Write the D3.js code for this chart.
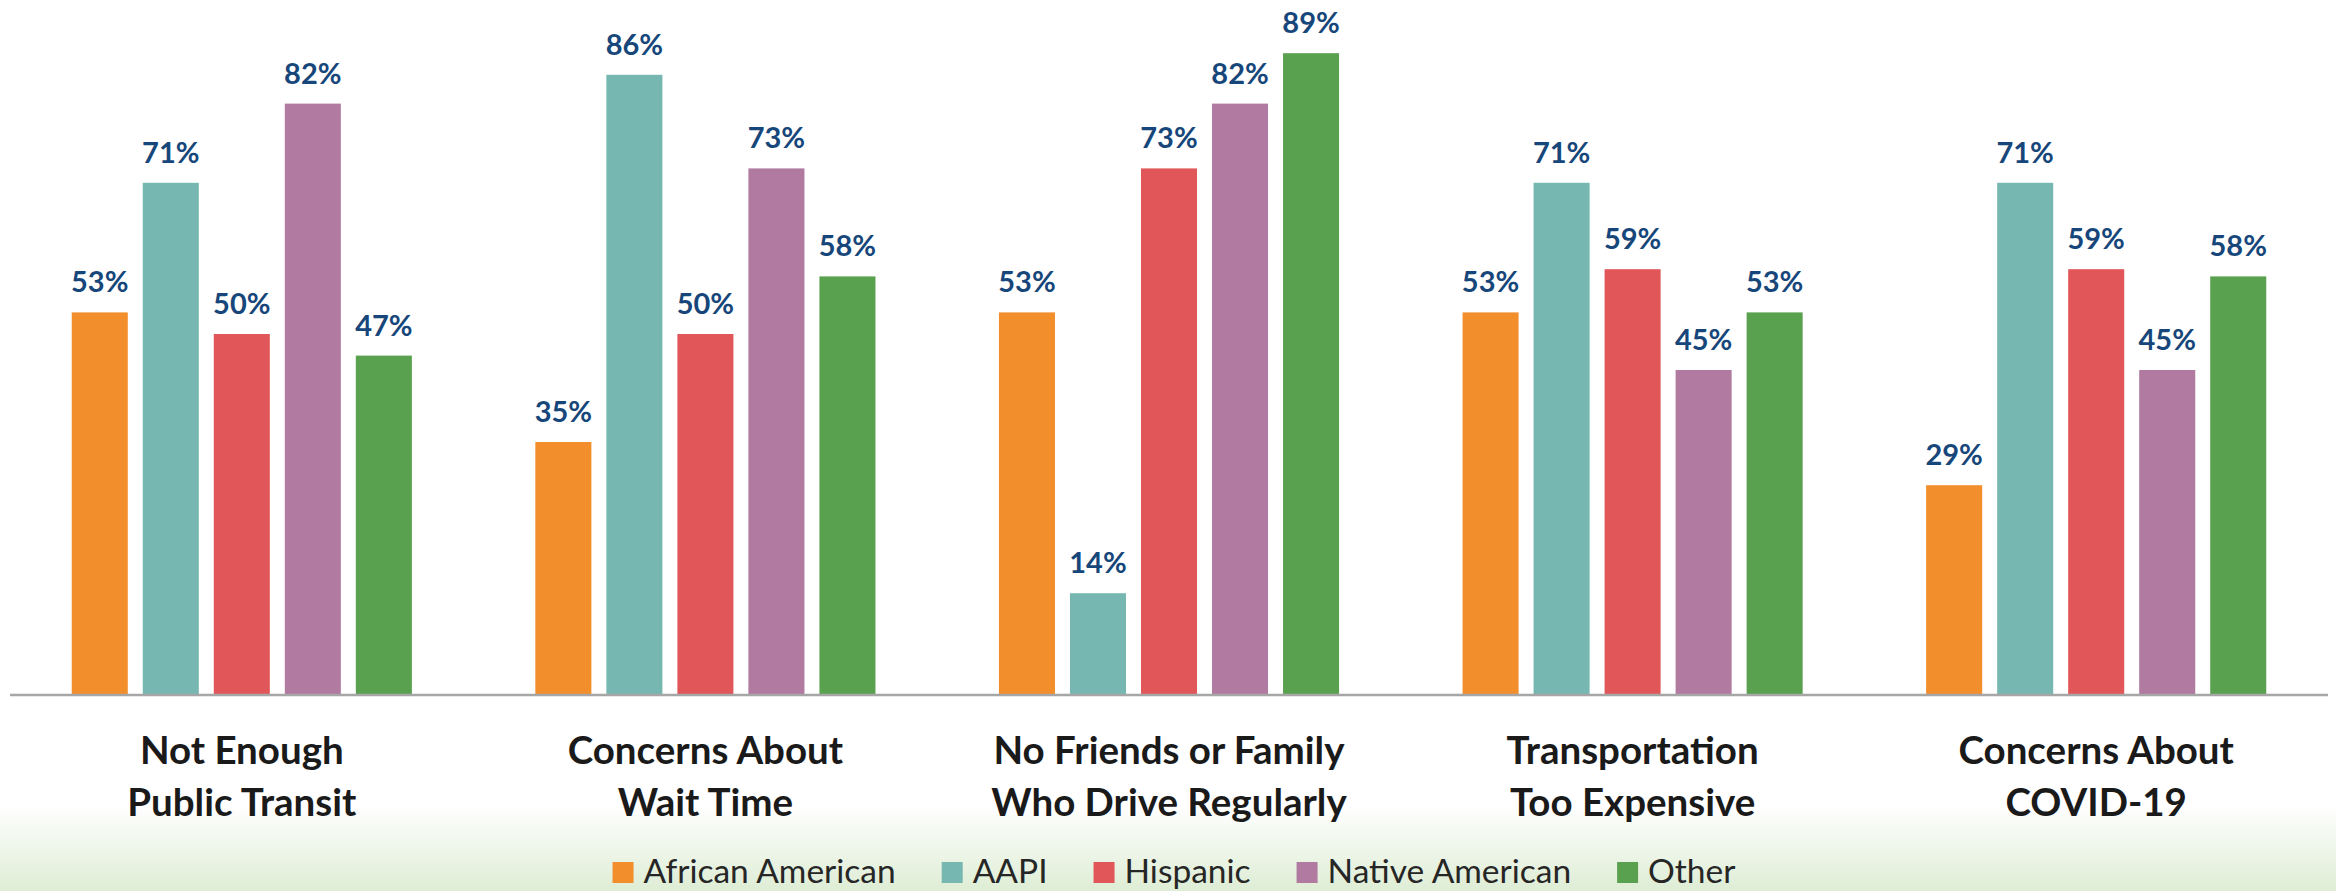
<!DOCTYPE html>
<html>
<head>
<meta charset="utf-8">
<script src="https://cdn.jsdelivr.net/npm/d3@7"></script>
<style>
  html, body { margin: 0; padding: 0; background: #fff; }
  svg { display: block; font-family: Lato, "Open Sans", sans-serif; }
</style>
</head>
<body>
<div id="chart"></div>
<script>
// chart data
const categories = [
  "Not Enough|Public Transit",
  "Concerns About|Wait Time",
  "No Friends or Family|Who Drive Regularly",
  "Transportation|Too Expensive",
  "Concerns About|COVID-19"
];
const series = ["African American", "AAPI", "Hispanic", "Native American", "Other"];
const colors = ["#f28e2b", "#76b7b2", "#e15759", "#b07aa1", "#59a14f"];

const africanAmerican = [53, 35, 53, 53, 29];
const aapi            = [71, 86, 14, 71, 71];
const hispanic        = [50, 50, 73, 59, 59];
const nativeAmerican  = [82, 73, 82, 45, 45];
const other           = [47, 58, 89, 53, 58];

const valuesBySeries = [africanAmerican, aapi, hispanic, nativeAmerican, other];

const W = 2336, H = 891;
const baseY = 694;

const svg = d3.select("#chart").append("svg")
  .attr("width", W)
  .attr("height", H);

// soft green fade at the bottom
const defs = svg.append("defs");
const grad = defs.append("linearGradient")
  .attr("id", "fade")
  .attr("x1", 0).attr("y1", 0).attr("x2", 0).attr("y2", 1);
grad.append("stop").attr("offset", "0%").attr("stop-color", "#ffffff");
grad.append("stop").attr("offset", "100%").attr("stop-color", "#deedd5");

svg.append("rect")
  .attr("x", 0).attr("y", 805)
  .attr("width", W).attr("height", H - 805)
  .attr("fill", "url(#fade)");

// scales
const x0 = d3.scaleBand()
  .domain(categories)
  .range([10, 2328])
  .paddingInner(0.234)
  .paddingOuter(0.117);

const x1 = d3.scaleBand()
  .domain(series)
  .range([0, x0.bandwidth()])
  .paddingInner(0.211)
  .paddingOuter(0.1056);

const y = d3.scaleLinear()
  .domain([0, 90])
  .range([baseY, baseY - 648]);

// flatten for drawing
const rows = [];
categories.forEach((c, ci) => {
  series.forEach((s, si) => {
    rows.push({ cat: c, series: s, color: colors[si], value: valuesBySeries[si][ci] });
  });
});

const groups = svg.append("g");

groups.selectAll(".bar")
  .data(rows)
  .enter()
  .append("rect")
  .attr("class", "bar")
  .attr("x", d => x0(d.cat) + x1(d.series))
  .attr("y", d => y(d.value))
  .attr("width", x1.bandwidth())
  .attr("height", d => y(0) - y(d.value))
  .attr("fill", d => d.color);

groups.selectAll(".val")
  .data(rows)
  .enter()
  .append("text")
  .attr("class", "val")
  .attr("x", d => x0(d.cat) + x1(d.series) + x1.bandwidth() / 2)
  .attr("y", d => y(d.value) - 20)
  .attr("text-anchor", "middle")
  .attr("font-size", 29)
  .attr("font-weight", 700)
  .attr("fill", "#17477a")
  .text(d => d.value + "%");

// baseline
svg.append("line")
  .attr("x1", 10).attr("x2", 2328)
  .attr("y1", baseY + 1).attr("y2", baseY + 1)
  .attr("stroke", "#a6a6a6")
  .attr("stroke-width", 2.5);

// category labels (two lines each)
const catLabels = svg.selectAll(".cat")
  .data(categories)
  .enter()
  .append("text")
  .attr("class", "cat")
  .attr("text-anchor", "middle")
  .attr("font-size", 38.5)
  .attr("font-weight", 700)
  .attr("fill", "#1a1a1a");

catLabels.selectAll("tspan")
  .data(d => d.split("|").map(t => ({ t, cx: x0(d) + x0.bandwidth() / 2 })))
  .enter()
  .append("tspan")
  .attr("x", d => d.cx)
  .attr("y", (d, i) => 764 + i * 52)
  .text(d => d.t);

// legend, laid out left to right then centred
const legend = svg.append("g");
let lx = 0;
series.forEach((s, i) => {
  const item = legend.append("g").attr("transform", `translate(${lx},0)`);
  item.append("rect")
    .attr("x", 0).attr("y", 862)
    .attr("width", 21).attr("height", 21)
    .attr("fill", colors[i]);
  const t = item.append("text")
    .attr("x", 31).attr("y", 883)
    .attr("font-size", 33.5)
    .attr("fill", "#262626")
    .text(s);
  lx += 31 + t.node().getComputedTextLength() + 46;
});
const legendWidth = lx - 46;
legend.attr("transform", `translate(${(W - legendWidth) / 2 + 6},0)`);
</script>
</body>
</html>
